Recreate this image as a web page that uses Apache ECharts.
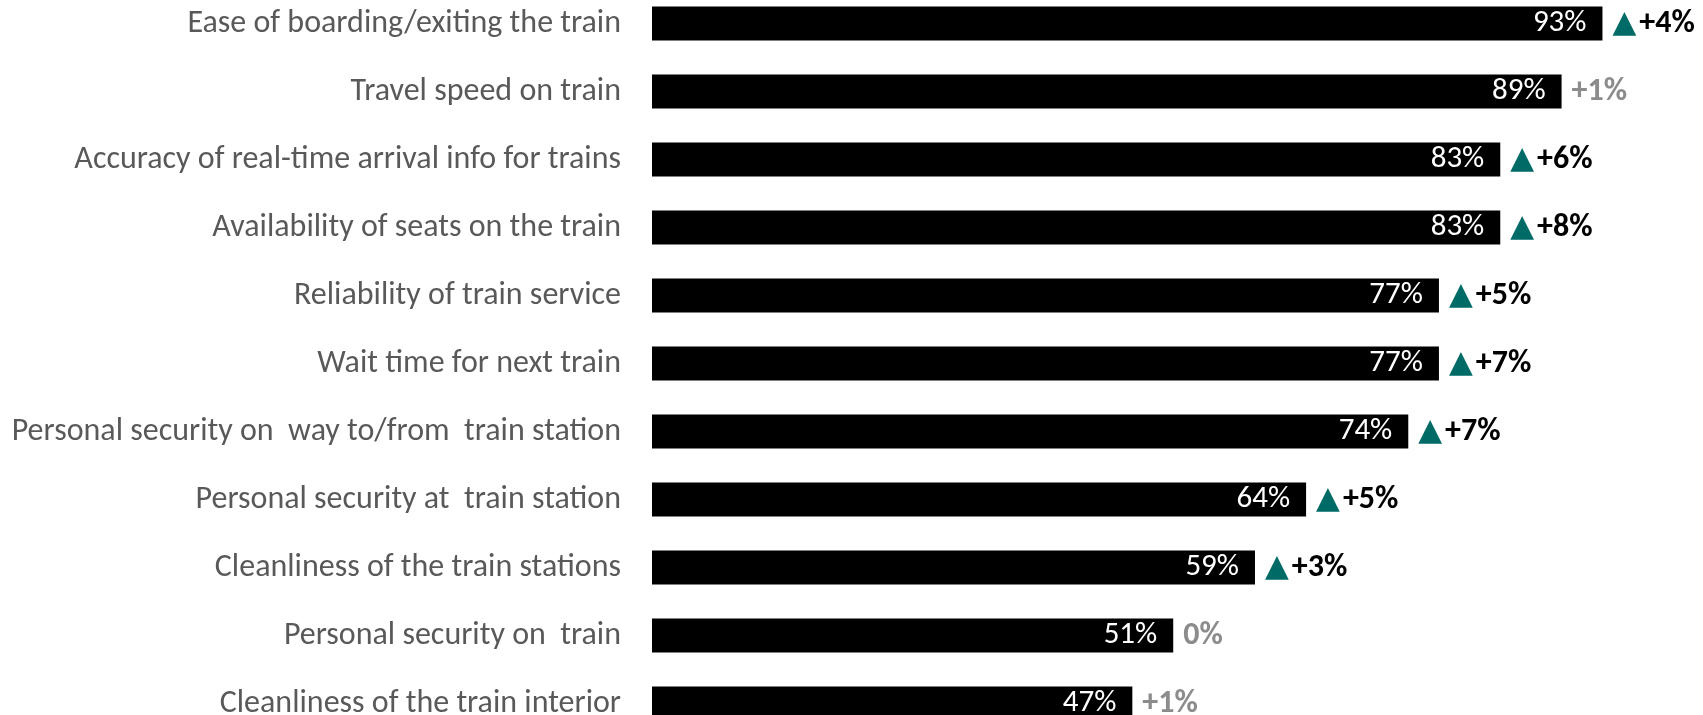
<!DOCTYPE html>
<html>
<head>
<meta charset="utf-8">
<script src="https://cdn.jsdelivr.net/npm/echarts@6/dist/echarts.min.js"></script>
<style>
  html, body { margin: 0; padding: 0; background: #fff; }
  #chart { width: 1703px; height: 715px; }
</style>
</head>
<body>
<div id="chart"></div>
<script>
// Satisfaction with train service attributes, top to bottom
const categories = [
  'Ease of boarding/exiting the train',
  'Travel speed on train',
  'Accuracy of real-time arrival info for trains',
  'Availability of seats on the train',
  'Reliability of train service',
  'Wait time for next train',
  'Personal security on  way to/from  train station',
  'Personal security at  train station',
  'Cleanliness of the train stations',
  'Personal security on  train',
  'Cleanliness of the train interior'
];
// Share satisfied (%)
const satisfied = [93, 89, 83, 83, 77, 77, 74, 64, 59, 51, 47];
// Change versus previous wave (percentage points)
const changeLabels = ['+4%', '+1%', '+6%', '+8%', '+5%', '+7%', '+7%', '+5%', '+3%', '0%', '+1%'];
// Whether the change is a significant increase (marked with a triangle)
const significant = [true, false, true, true, true, true, true, true, true, false, false];

const FONT = '"Carlito", "Open Sans", "Noto Sans", sans-serif';
const TEAL = '#006b66';

const chart = echarts.init(document.getElementById('chart'));
chart.setOption({
  animation: false,
  backgroundColor: '#ffffff',
  grid: {
    left: 652, right: 29, top: -10.5, bottom: -22.5,
    containLabel: false,
    outerBoundsMode: 'none'
  },
  xAxis: {
    type: 'value', min: 0, max: 100,
    show: false
  },
  yAxis: {
    type: 'category',
    data: categories,
    inverse: true,
    axisLine: { show: false },
    axisTick: { show: false },
    axisLabel: {
      margin: 31,
      color: '#595959',
      fontFamily: FONT,
      fontSize: 32
    }
  },
  series: [
    {
      type: 'bar',
      data: satisfied,
      barWidth: 34,
      itemStyle: { color: '#000000' },
      label: {
        show: true,
        position: 'insideRight',
        distance: 16,
        color: '#ffffff',
        fontFamily: FONT,
        fontSize: 31,
        formatter: p => p.value + '%'
      },
      z: 2
    },
    {
      type: 'bar',
      data: satisfied,
      barWidth: 34,
      barGap: '-100%',
      itemStyle: { color: 'rgba(0,0,0,0)' },
      silent: true,
      label: {
        show: true,
        position: 'right',
        distance: 10,
        fontFamily: FONT,
        formatter: p => significant[p.dataIndex]
          ? '{tri|▲}{up|' + changeLabels[p.dataIndex] + '}'
          : '{flat|' + changeLabels[p.dataIndex] + '}',
        rich: {
          tri: { color: TEAL, fontSize: 31, fontFamily: 'DejaVu Sans', padding: [0, 3, 0, 0] },
          up: { color: '#000000', fontSize: 32, fontWeight: 'bold', fontFamily: FONT },
          flat: { color: '#8c8c8c', fontSize: 32, fontWeight: 'bold', fontFamily: FONT }
        }
      },
      z: 3
    }
  ]
});
</script>
</body>
</html>
